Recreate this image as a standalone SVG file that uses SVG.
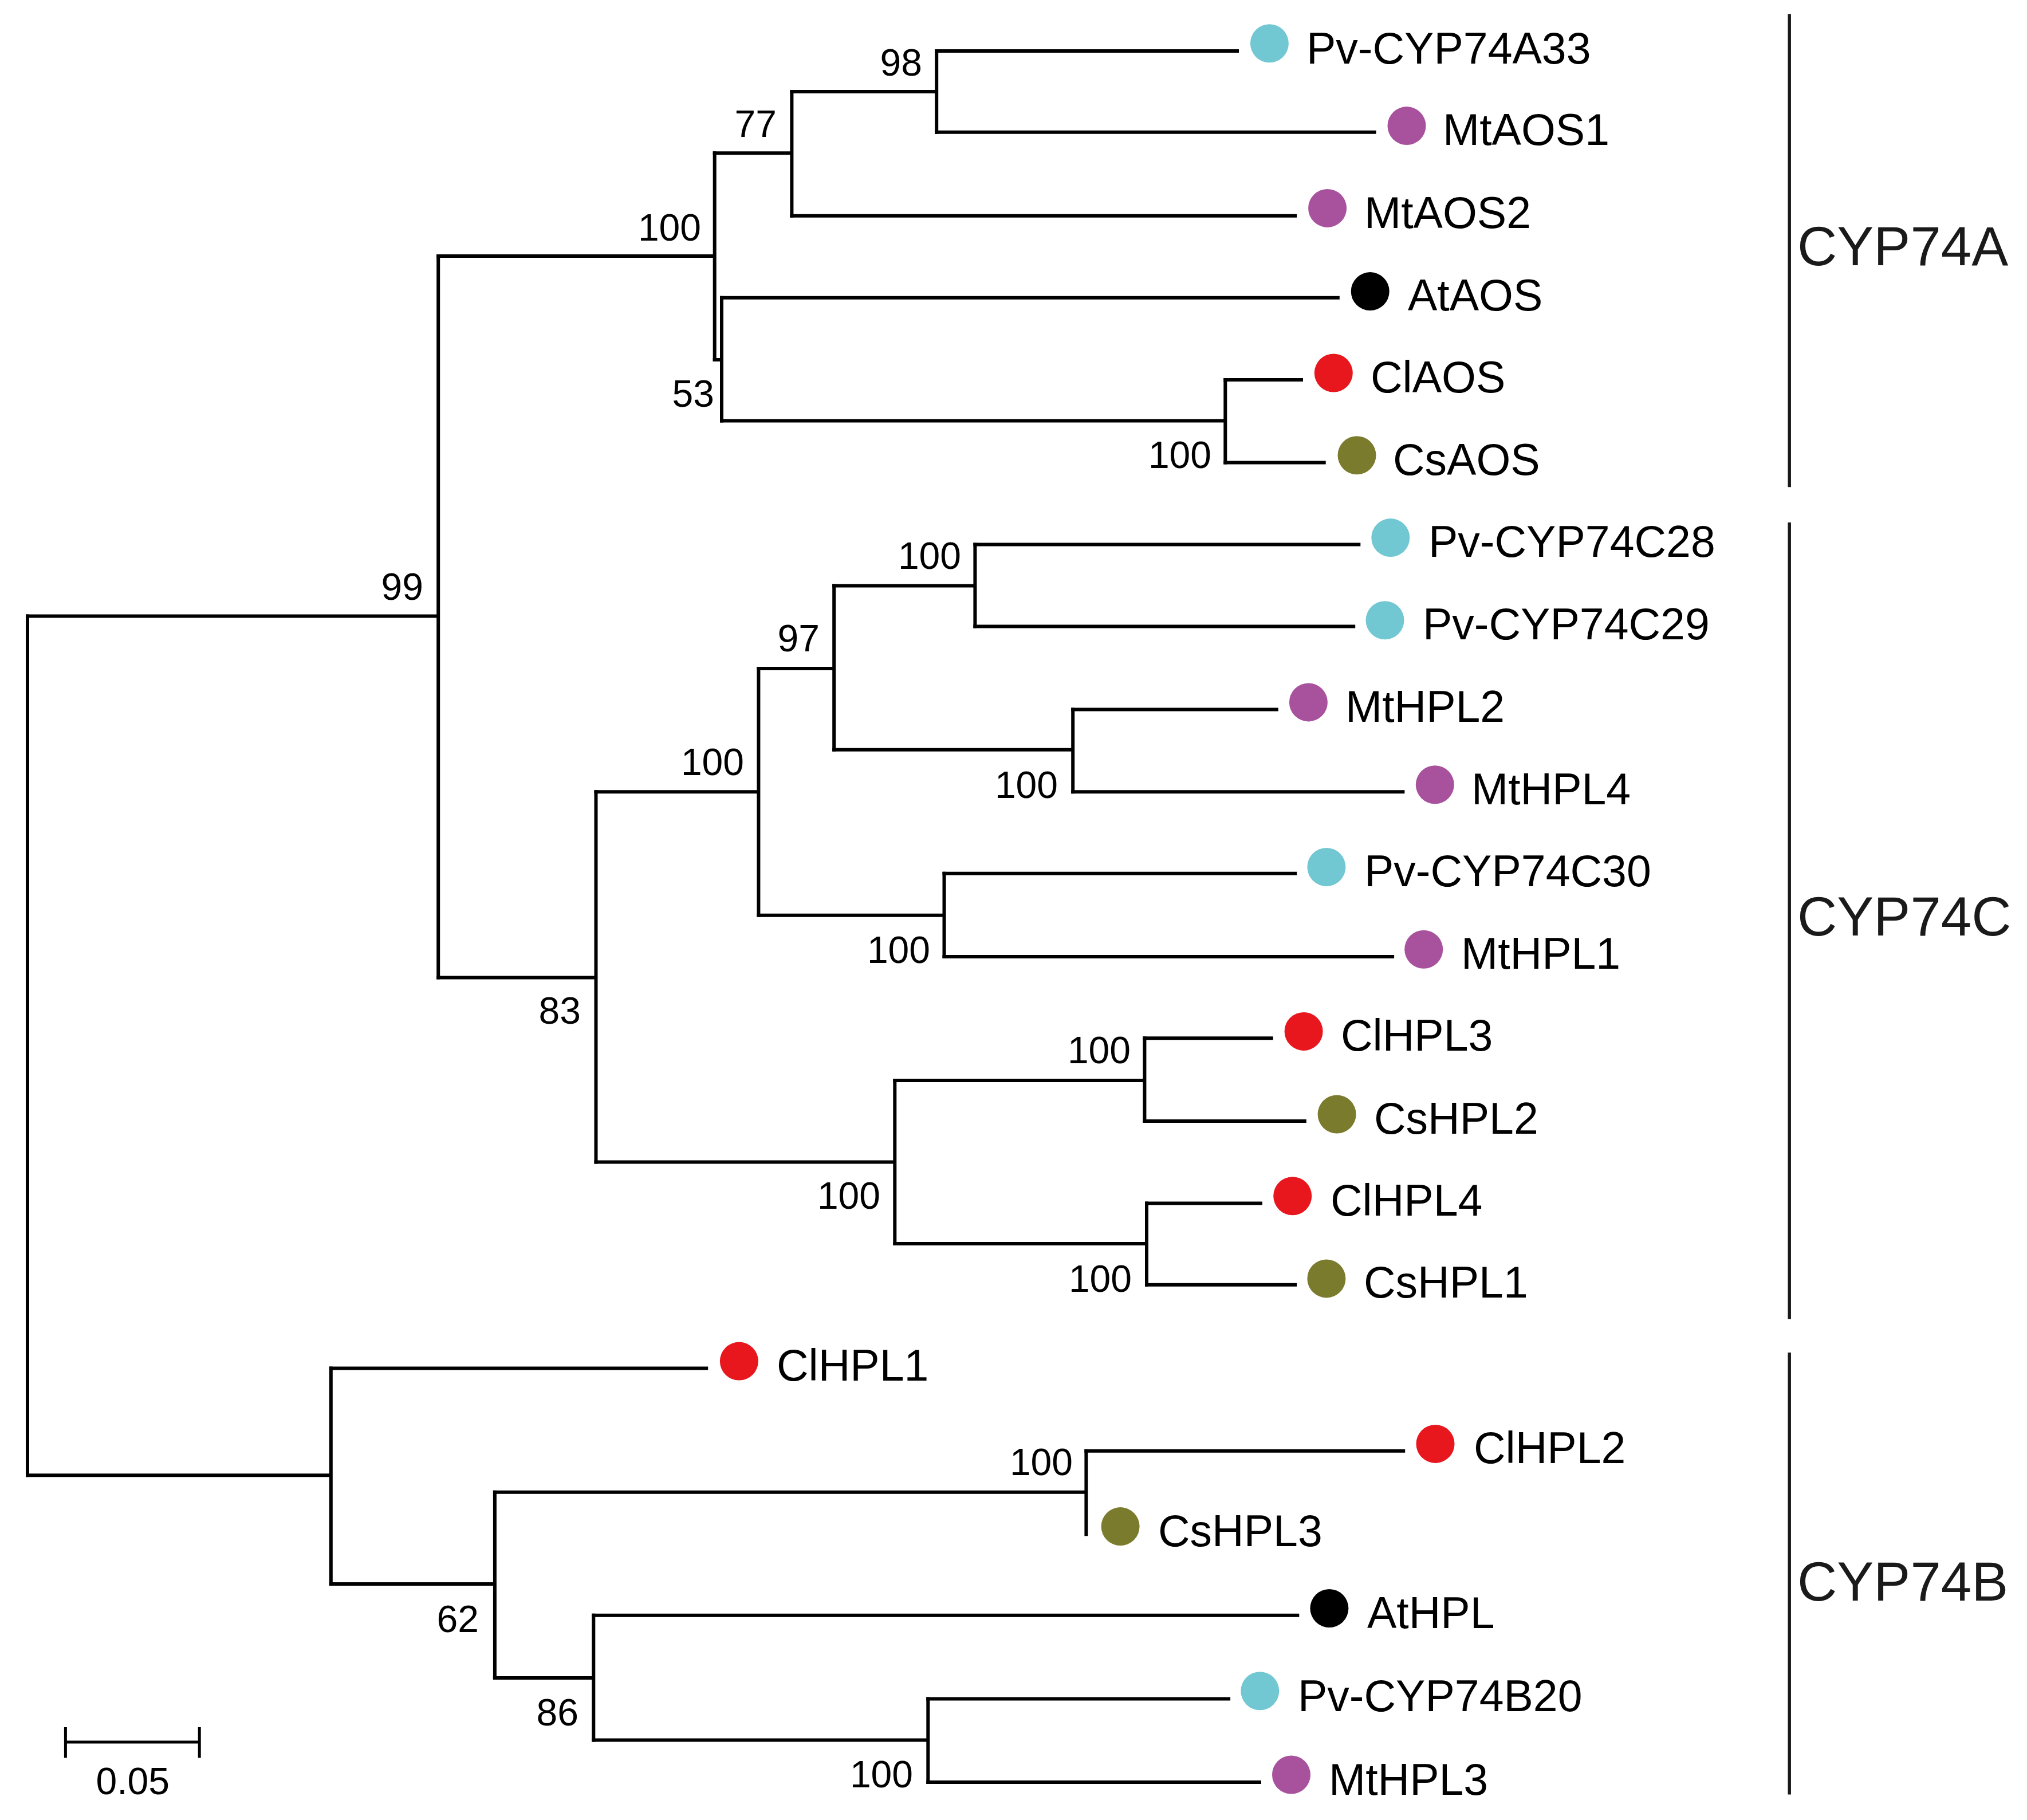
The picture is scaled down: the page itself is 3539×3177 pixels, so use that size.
<svg xmlns="http://www.w3.org/2000/svg" width="3539" height="3177" viewBox="0 0 3539 3177">
<style>
.br{fill:none;stroke:#000;stroke-width:6;stroke-linecap:square;stroke-linejoin:miter}
.lf{font-family:"Liberation Sans",Arial,sans-serif;font-size:77px;fill:#000}
.bs{font-family:"Liberation Sans",Arial,sans-serif;font-size:66px;fill:#000;text-anchor:end}
.cl{font-family:"Liberation Sans",Arial,sans-serif;font-size:96px;fill:#1a1a1a}
.bar{stroke:#1a1a1a;stroke-width:5.5;fill:none}
.cy{fill:#71C7D2}.pu{fill:#A8529D}.bk{fill:#000}.rd{fill:#E7171D}.ol{fill:#7B7B2D}
</style>
<rect width="3539" height="3177" fill="#fff"/>
<g id="connectors" class="br">
<path d="M48 1075.4V2575.3"/>
<path d="M48 1075.4H765.2M765.2 446.9V1706.4"/>
<path d="M765.2 446.9H1247.7M1247.7 267.3V627.9"/>
<path d="M1247.7 267.3H1382.4M1382.4 160V376.7"/>
<path d="M1382.4 160H1635.2M1635.2 89.1V230.8"/>
<path d="M1635.2 89.1H2160M1635.2 230.8H2399.6"/>
<path d="M1382.4 376.7H2261.2"/>
<path d="M1247.7 627.9H1260M1260 519.8V734.5"/>
<path d="M1260 519.8H2335.8"/>
<path d="M1260 734.5H2139.3M2139.3 663V807.4"/>
<path d="M2139.3 663H2272M2139.3 807.4H2311.7"/>
<path d="M765.2 1706.4H1040.5M1040.5 1382.3V2028.4"/>
<path d="M1040.5 1382.3H1324.4M1324.4 1167V1597.7"/>
<path d="M1324.4 1167H1456.2M1456.2 1022.4V1308.7"/>
<path d="M1456.2 1022.4H1702.4M1702.4 950.6V1093.5"/>
<path d="M1702.4 950.6H2372.3M1702.4 1093.5H2363.2"/>
<path d="M1456.2 1308.7H1873.2M1873.2 1238.5V1382.3"/>
<path d="M1873.2 1238.5H2228.8M1873.2 1382.3H2449.4"/>
<path d="M1324.4 1597.7H1648.5M1648.5 1524.7V1670"/>
<path d="M1648.5 1524.7H2261.2M1648.5 1670H2431.1"/>
<path d="M1040.5 2028.4H1562.3M1562.3 1886V2171"/>
<path d="M1562.3 1886H1998.4M1998.4 1812.3V1956.9"/>
<path d="M1998.4 1812.3H2219.7M1998.4 1956.9H2277.8"/>
<path d="M1562.3 2171H2002M2002 2100.5V2242.8"/>
<path d="M2002 2100.5H2200.9M2002 2242.8H2261.2"/>
<path d="M48 2575.3H577.8M577.8 2388.5V2764.9"/>
<path d="M577.8 2388.5H1233.2"/>
<path d="M577.8 2764.9H863.9M863.9 2604.8V2929"/>
<path d="M863.9 2604.8H1896.4M1896.4 2532.7V2678.3"/>
<path d="M1896.4 2532.7H2450.2"/>
<path d="M863.9 2929H1036.3M1036.3 2819.8V3037.6"/>
<path d="M1036.3 2819.8H2265.3"/>
<path d="M1036.3 3037.6H1620.3M1620.3 2965.4V3111"/>
<path d="M1620.3 2965.4H2145.1M1620.3 3111H2199"/>
</g>
<g id="bootstrap">
<text class="bs" x="1610" y="132">98</text>
<text class="bs" x="1356" y="238.5">77</text>
<text class="bs" x="1224" y="419.5">100</text>
<text class="bs" x="1247" y="710">53</text>
<text class="bs" x="2115" y="817">100</text>
<text class="bs" x="739" y="1047">99</text>
<text class="bs" x="1678" y="992.6">100</text>
<text class="bs" x="1431" y="1137">97</text>
<text class="bs" x="1299" y="1353">100</text>
<text class="bs" x="1847" y="1393">100</text>
<text class="bs" x="1014" y="1787">83</text>
<text class="bs" x="1624" y="1680.5">100</text>
<text class="bs" x="1974" y="1856">100</text>
<text class="bs" x="1537" y="2110">100</text>
<text class="bs" x="1976" y="2254.5">100</text>
<text class="bs" x="1873" y="2575">100</text>
<text class="bs" x="836" y="2849">62</text>
<text class="bs" x="1010" y="3011.5">86</text>
<text class="bs" x="1594" y="3120">100</text>
</g>
<g id="leaf-Pv-CYP74A33"><circle class="cy" cx="2216.4" cy="75.8" r="33.5"/><text class="lf" x="2281" y="110.5">Pv-CYP74A33</text></g>
<g id="leaf-MtAOS1"><circle class="pu" cx="2456" cy="219.6" r="33.5"/><text class="lf" x="2519" y="252.5">MtAOS1</text></g>
<g id="leaf-MtAOS2"><circle class="pu" cx="2317.6" cy="363.4" r="33.5"/><text class="lf" x="2382" y="398">MtAOS2</text></g>
<g id="leaf-AtAOS"><circle class="bk" cx="2392.2" cy="508.6" r="33.5"/><text class="lf" x="2458" y="541.5">AtAOS</text></g>
<g id="leaf-ClAOS"><circle class="rd" cx="2328.3" cy="651" r="33.5"/><text class="lf" x="2393" y="684.5">ClAOS</text></g>
<g id="leaf-CsAOS"><circle class="ol" cx="2369" cy="794.8" r="33.5"/><text class="lf" x="2432" y="829">CsAOS</text></g>
<g id="leaf-Pv-CYP74C28"><circle class="cy" cx="2427.8" cy="938.6" r="33.5"/><text class="lf" x="2494" y="972">Pv-CYP74C28</text></g>
<g id="leaf-Pv-CYP74C29"><circle class="cy" cx="2418" cy="1082.8" r="33.5"/><text class="lf" x="2484" y="1115.5">Pv-CYP74C29</text></g>
<g id="leaf-MtHPL2"><circle class="pu" cx="2284.4" cy="1225.9" r="33.5"/><text class="lf" x="2349" y="1260">MtHPL2</text></g>
<g id="leaf-MtHPL4"><circle class="pu" cx="2505.3" cy="1369.7" r="33.5"/><text class="lf" x="2569" y="1404">MtHPL4</text></g>
<g id="leaf-Pv-CYP74C30"><circle class="cy" cx="2315.9" cy="1513.5" r="33.5"/><text class="lf" x="2382" y="1546.5">Pv-CYP74C30</text></g>
<g id="leaf-MtHPL1"><circle class="pu" cx="2485.7" cy="1657.3" r="33.5"/><text class="lf" x="2551" y="1691">MtHPL1</text></g>
<g id="leaf-ClHPL3"><circle class="rd" cx="2276.1" cy="1800.4" r="33.5"/><text class="lf" x="2341" y="1834">ClHPL3</text></g>
<g id="leaf-CsHPL2"><circle class="ol" cx="2334.1" cy="1945" r="33.5"/><text class="lf" x="2399" y="1978.5">CsHPL2</text></g>
<g id="leaf-ClHPL4"><circle class="rd" cx="2256.7" cy="2087.7" r="33.5"/><text class="lf" x="2323" y="2122">ClHPL4</text></g>
<g id="leaf-CsHPL1"><circle class="ol" cx="2315.9" cy="2231.9" r="33.5"/><text class="lf" x="2381" y="2265">CsHPL1</text></g>
<g id="leaf-ClHPL1"><circle class="rd" cx="1290.4" cy="2376.1" r="33.5"/><text class="lf" x="1356" y="2410">ClHPL1</text></g>
<g id="leaf-ClHPL2"><circle class="rd" cx="2506" cy="2520.4" r="33.5"/><text class="lf" x="2573" y="2553.5">ClHPL2</text></g>
<g id="leaf-CsHPL3"><circle class="ol" cx="1956.1" cy="2664.6" r="33.5"/><text class="lf" x="2022" y="2699">CsHPL3</text></g>
<g id="leaf-AtHPL"><circle class="bk" cx="2320.9" cy="2807.5" r="33.5"/><text class="lf" x="2387" y="2841.5">AtHPL</text></g>
<g id="leaf-Pv-CYP74B20"><circle class="cy" cx="2199.8" cy="2951.7" r="33.5"/><text class="lf" x="2266" y="2987">Pv-CYP74B20</text></g>
<g id="leaf-MtHPL3"><circle class="pu" cx="2254.5" cy="3098" r="33.5"/><text class="lf" x="2320" y="3132.5">MtHPL3</text></g>
<g id="clades">
<line class="bar" x1="3124.2" y1="24.6" x2="3124.2" y2="850.2"/>
<text class="cl" x="3138" y="463">CYP74A</text>
<line class="bar" x1="3124.2" y1="912" x2="3124.2" y2="2302.6"/>
<text class="cl" x="3138" y="1633">CYP74C</text>
<line class="bar" x1="3124.2" y1="2361" x2="3124.2" y2="3132.4"/>
<text class="cl" x="3138" y="2794">CYP74B</text>
</g>
<g id="scale-bar">
<path d="M114.4 3041H348.2M114.4 3014.9V3068.5M348.2 3014.9V3068.5" fill="none" stroke="#000" stroke-width="5"/>
<text class="bs" style="text-anchor:middle" x="231.7" y="3132.4">0.05</text>
</g>
</svg>
